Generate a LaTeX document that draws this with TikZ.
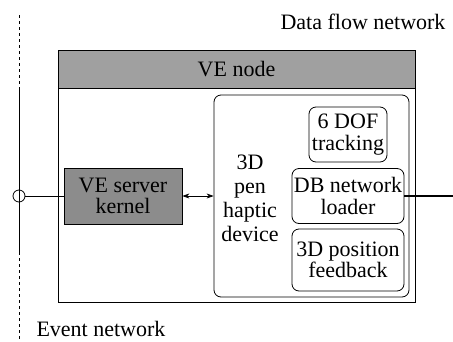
\documentclass[tikz,border=0pt]{standalone}
\usepackage{fontspec}
\setmainfont{Liberation Serif}
\usepackage{tikz}
\usetikzlibrary{arrows.meta}

\definecolor{headgray}{RGB}{160,160,160}
\definecolor{kerngray}{RGB}{140,140,140}

\tikzset{
    box/.style={draw, line width=0.8pt, inner sep=0pt, align=center},
    rbox/.style={box, rounded corners=7pt},
}

\begin{document}
\begin{tikzpicture}[x=1pt, y=-1pt, font=\fontsize{22}{21.5}\selectfont]
    \useasboundingbox (0,0) rectangle (453,341);

    % Nodes
    \node[box, minimum width=357pt, minimum height=252pt] (venode) at (236.5,176) {};
    \node[box, fill=headgray, minimum width=357pt, minimum height=38pt] (vehead) at (236.5,69) {VE node};
    \node[box, fill=kerngray, minimum width=118pt, minimum height=56pt] (kernel) at (123,196) {VE server\\kernel};
    \node[rbox, minimum width=195pt, minimum height=202pt] (penbox) at (311.5,196) {};
    \node[align=center, font=\fontsize{22}{24}\selectfont] (pen) at (250,198) {3D\\pen\\haptic\\device};
    \node[rbox, minimum width=78pt, minimum height=55pt] (dof) at (348,134.5) {6 DOF\\tracking};
    \node[rbox, minimum width=112pt, minimum height=55pt] (dbload) at (348,196) {DB network\\loader};
    \node[rbox, minimum width=112pt, minimum height=62pt] (feedback) at (348,260) {3D position\\feedback};
    \node[draw, circle, line width=0.8pt, minimum size=12pt, inner sep=0pt] (port) at (19,196) {};
    \node[anchor=east] (dataflow) at (449,22) {Data flow network};
    \node[anchor=west] (event) at (33,329) {Event network};

    % Event bus
    \coordinate (evtop) at (19,15);
    \coordinate (evup) at (19,87);
    \coordinate (evdown) at (19,252);
    \coordinate (evbot) at (19,341);
    \coordinate (dataend) at (453,196);
    \draw[line width=0.8pt, dashed] (evtop) -- (evup);
    \draw[line width=0.8pt] (evup) -- (evdown);
    \draw[line width=0.8pt, dashed] (evdown) -- (evbot);

    % Arrows
    \draw[line width=0.8pt] (port) -- (kernel.west |- port);
    \draw[line width=0.6pt, {Stealth[length=7pt,width=5pt]}-{Stealth[length=7pt,width=5pt]}] (kernel.east) -- (penbox.west |- kernel.east);
    \draw[line width=2.2pt] (dbload.east) -- (dataend);

\end{tikzpicture}
\end{document}
